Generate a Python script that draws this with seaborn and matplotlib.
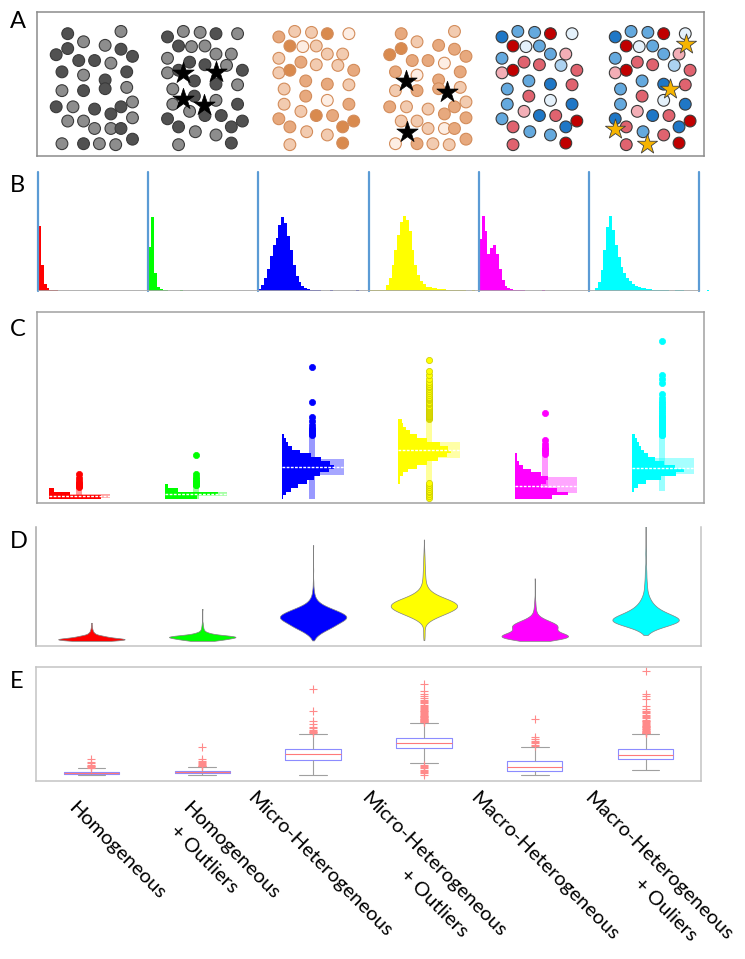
import numpy as np
import pandas as pd
import matplotlib
matplotlib.use("Agg")
import matplotlib.pyplot as plt
import seaborn as sns

# ---------------- panel A: dot layouts (y grows downward)
lay1_x = [142, 253, 175, 220, 142, 253, 118, 165, 198, 232, 277, 130, 175, 220, 265,
          130, 175, 220, 265, 118, 153, 198, 232, 253, 277, 142, 175, 198, 232, 253,
          277, 130, 175, 208, 242, 277]
lay1_y = [92, 85, 117, 128, 138, 140, 157, 175, 175, 183, 162, 210, 220, 235, 210,
          268, 268, 262, 258, 318, 318, 325, 340, 318, 303, 362, 362, 385, 385, 385,
          352, 432, 432, 432, 435, 418]
lay2_x = [350, 383, 418, 451, 496, 373, 400, 428, 350, 451, 483, 350, 373, 396, 428,
          473, 506, 361, 406, 451, 496, 361, 406, 451, 496, 350, 396, 428, 462, 506,
          373, 408, 451, 483, 373, 483]
lay2_y = [102, 85, 88, 92, 92, 130, 132, 130, 168, 155, 155, 213, 205, 180, 188,
          190, 205, 263, 238, 248, 250, 310, 285, 298, 310, 355, 332, 345, 345, 362,
          380, 395, 405, 380, 435, 430]

scene_layout = [1, 2, 2, 1, 2, 2]
scene_shift = [0, 0, 232, 695, 697, 933]
scene_family = ["gray", "gray", "orange", "orange", "redblue", "redblue"]
scene_codes = [
    "DMMMDDDDDMD" "DMDD" "MDDM" "DMDDDM" "MMMMDM" "MDMMD",
    "DMMDM" "DMM" "MMM" "MDDDMD" "MDDM" "MDMD" "DMDDD" "DMMD" "MD",
    "12203" "032" "222" "201221" "2112" "2131" "12010" "1220" "20",
    "12210101131" "1311" "2112" "122112" "222311" "31221",
    "BbbRw" "Rwb" "bbp" "pRrrlr" "bbBr" "brwB" "bpBrR" "rbbB" "rR",
    "BbbRw" "Rwb" "bbp" "pRrrlr" "bbBr" "brwB" "BpBrR" "rbrB" "rR",
]
shade = {"D": "#515151", "M": "#8d8d8d",
         "0": "#d98a4e", "1": "#e7a97e", "2": "#f2cbb0", "3": "#fdeee4",
         "R": "#c00000", "r": "#e0636f", "p": "#f3aeb6",
         "B": "#1f77c6", "b": "#64a9de", "l": "#acd2f0", "w": "#e4f1fb"}
edge_col = {"gray": "#3a3a3a", "orange": "#d38c5a", "redblue": "#3a3a3a"}

star_black_x = [383, 452, 383, 425, 848, 932, 850]
star_black_y = [212, 210, 293, 313, 237, 272, 397]
star_gold_x = [1430, 1398, 1283, 1350]
star_gold_y = [123, 262, 388, 433]

# ---------------- the six distributions: counts in 0.02 wide bins starting at 0
bin_w = 0.02
groups = ["Homogeneous", "Homogeneous + Outliers", "Micro-Heterogeneous",
          "Micro-Heterogeneous + Outliers", "Macro-Heterogeneous",
          "Macro-Heterogeneous + Ouliers"]
colors = ["#ff0000", "#00ff00", "#0000ff", "#ffff00", "#ff00ff", "#00ffff"]
red_counts = [100, 40, 10, 4, 2, 1, 1]
green_counts = [60, 100, 25, 6, 3, 2, 1, 0, 0, 0, 0, 1]
blue_counts = [3, 8, 18, 30, 48, 62, 72, 90, 100, 92, 75, 55, 35, 20, 12, 7, 4, 3,
               2, 1, 1, 1, 0, 0, 0, 1, 0, 0, 0, 0, 0, 0, 0, 0, 1]
yellow_counts = [2, 2, 2, 2, 2, 2, 8, 18, 35, 55, 75, 92, 100, 95, 80, 55, 35, 22,
                 14, 9, 6, 5, 4, 4, 3, 3, 3, 2, 2, 2, 2, 1, 1, 1, 0, 0, 1]
magenta_counts = [70, 100, 80, 50, 58, 62, 50, 30, 15, 7, 4, 3, 2, 2, 1, 1, 0, 0,
                  0, 0, 0, 0, 1]
cyan_counts = [0, 0, 4, 12, 28, 55, 85, 100, 82, 62, 45, 32, 24, 18, 13, 10, 7, 5,
               4, 4, 3, 3, 2, 2, 2, 2, 1, 1, 0, 0, 1, 1, 1, 0, 0, 0, 0, 0, 0, 0,
               0, 1]
all_counts = [red_counts, green_counts, blue_counts, yellow_counts,
              magenta_counts, cyan_counts]
b_peak = [0.55, 0.62, 0.62, 0.63, 0.63, 0.63]
b_scale = 1.3   # panel B stretches the value axis a little

label_lines = ["Homogeneous", "Homogeneous", "+ Outliers", "Micro-Heterogeneous",
               "Micro-Heterogeneous", "+ Outliers", "Macro-Heterogeneous",
               "Macro-Heterogeneous", "+ Ouliers"]
label_px = [(77, 799), (191, 799), (179, 822), (256, 789), (370, 789), (409, 866),
            (479, 789), (593, 789), (643, 875)]


def spread(counts):
    # each bin's count laid out evenly across the bin
    vals = []
    for k, n in enumerate(counts):
        if n:
            vals.extend(k * bin_w + (np.arange(n) + 0.5) / n * bin_w)
    return np.array(vals)


def place(x0, y0, x1, y1):
    return [x0 / 745, 1 - y1 / 959, (x1 - x0) / 745, (y1 - y0) / 959]


samples = [spread(c) for c in all_counts]
long_df = pd.DataFrame({"group": np.repeat(groups, [len(s) for s in samples]),
                        "value": np.concatenate(samples)})

sns.set_style("white")
plt.rcParams["font.family"] = ["Lato", "DejaVu Sans"]
plt.rcParams["text.color"] = "black"
fig = plt.figure(figsize=(7.45, 9.59), dpi=100)

# ---------------- A
axA = fig.add_axes(place(37, 12, 704, 156))
for k in range(6):
    xs, ys = (lay1_x, lay1_y) if scene_layout[k] == 1 else (lay2_x, lay2_y)
    scene = pd.DataFrame({"x": np.array(xs) + scene_shift[k], "y": ys,
                          "code": list(scene_codes[k])})
    sns.scatterplot(data=scene, x="x", y="y", hue="code", palette=shade, s=72,
                    edgecolor=edge_col[scene_family[k]], linewidth=0.8,
                    legend=False, ax=axA)
sns.scatterplot(x=star_black_x, y=star_black_y, marker="*", s=260, color="black",
                edgecolor="black", linewidth=0.5, ax=axA)
sns.scatterplot(x=star_gold_x, y=star_gold_y, marker="*", s=230, color="#f6b400",
                edgecolor="#404040", linewidth=0.6, ax=axA)
axA.set_xlim(78, 1468)
axA.set_ylim(470, 25)

# ---------------- B
axB = fig.add_axes(place(38, 172, 718, 291))
for i, counts in enumerate(all_counts):
    c = np.array(counts, float)
    hist_df = pd.DataFrame({"x": (np.arange(len(c)) + 0.5) * bin_w * b_scale + i,
                            "w": c / c.max() * b_peak[i]})
    edges = np.arange(len(c) + 1) * bin_w * b_scale + i
    sns.histplot(data=hist_df, x="x", weights="w", bins=list(edges),
                 color=colors[i], alpha=1, linewidth=0, ax=axB)
for i in range(7):
    axB.axvline(i, color="#5b9bd5", lw=1.6, clip_on=False)
axB.axhline(0, xmin=0, xmax=6 / 6.17, color="#a6a6a6", lw=1.2)
axB.set_xlim(0, 6.17)
axB.set_ylim(0, 1)
for s in axB.spines.values():
    s.set_visible(False)

# ---------------- C
axC = fig.add_axes(place(37, 312, 704, 503))
for i, counts in enumerate(all_counts):
    p = i + 1
    vals = samples[i]
    q1, med, q3 = np.percentile(vals, [25, 50, 75])
    iqr = q3 - q1
    inside = vals[(vals >= q1 - 1.5 * iqr) & (vals <= q3 + 1.5 * iqr)]
    wlo, whi = inside.min(), inside.max()
    fliers = vals[(vals < wlo) | (vals > whi)]
    c = np.array(counts, float)
    lo_edges = np.arange(len(c)) * bin_w
    keep = (lo_edges < whi) & (lo_edges + bin_w > wlo)
    axC.bar(p, whi - wlo, bottom=wlo, width=0.05, color=colors[i], alpha=0.4, lw=0)
    axC.bar(p + 0.005, q3 - q1, bottom=q1, width=0.53, color=colors[i], alpha=0.35, lw=0)
    axC.barh(lo_edges[keep] + bin_w / 2, c[keep] / c.max() * 0.45, left=p - 0.26,
             height=bin_w, color=colors[i], lw=0)
    axC.hlines(med, p - 0.26, p + 0.27, colors="white", linestyles=(0, (2, 1)), lw=1)
    sns.scatterplot(x=np.full(len(fliers), p), y=fliers, color=colors[i], s=20,
                    edgecolor="#c8c800" if i == 3 else colors[i], linewidth=0.5,
                    ax=axC)
axC.set_xlim(0.64, 6.36)
axC.set_ylim(-0.02, 0.98)

# ---------------- D
axD = fig.add_axes(place(36, 527, 701, 646))
sns.violinplot(data=long_df, x="group", y="value", hue="group", order=groups,
               hue_order=groups, palette=colors, inner=None, cut=0,
               density_norm="width", width=0.6, linewidth=0.5, linecolor="#808080",
               saturation=1, legend=False, ax=axD)
axD.set_xlim(-0.5, 5.5)
axD.set_ylim(-0.037, 0.82)
axD.spines["top"].set_visible(False)

# ---------------- E
axE = fig.add_axes(place(36, 667, 701, 781))
sns.boxplot(data=long_df, x="group", y="value", order=groups, width=0.5, fill=False,
            color="#8c8cff", linewidth=0.8, saturation=1,
            boxprops=dict(color="#8c8cff"), medianprops=dict(color="#ff7a7a"),
            whiskerprops=dict(color="#a0a0a0"), capprops=dict(color="#a0a0a0"),
            flierprops=dict(marker="+", markeredgecolor="#ff8a8a", markersize=6,
                            markeredgewidth=0.8), ax=axE)
axE.set_xlim(-0.5, 5.5)
axE.set_ylim(-0.045, 0.865)

for ax, col in [(axA, "#8c8c8c"), (axC, "#a0a0a0"), (axD, "#c4c4c4"), (axE, "#c4c4c4")]:
    for s in ax.spines.values():
        s.set_color(col)
        s.set_linewidth(1.1)
axD.spines["left"].set_color("#a8a8a8")
for ax in [axA, axB, axC, axD, axE]:
    ax.set_xticks([])
    ax.set_yticks([])
    ax.set_xlabel("")
    ax.set_ylabel("")

for letter, y in zip("ABCDE", [22, 186, 330, 541, 682]):
    fig.text(10 / 745, 1 - y / 959, letter, fontsize=17, ha="left", va="center",
             color="black")

for text, (x, y) in zip(label_lines, label_px):
    fig.text(x / 745, 1 - y / 959, text, fontsize=14.5, rotation=-45,
             rotation_mode="anchor", ha="left", va="top", color="black")

fig.savefig("out.png", dpi=100)
